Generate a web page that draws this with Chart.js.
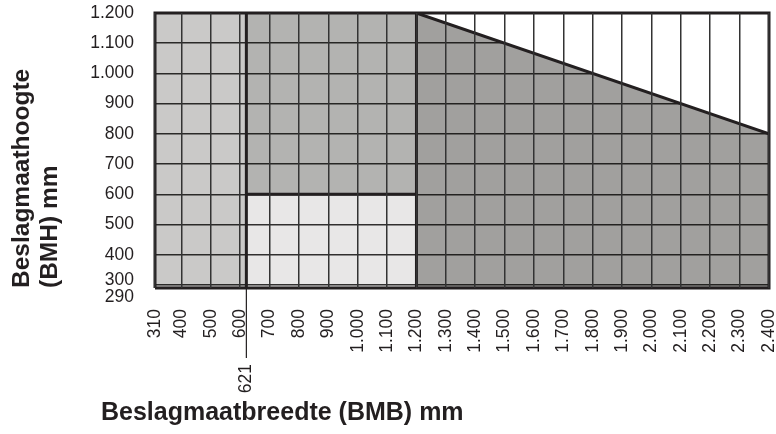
<!DOCTYPE html>
<html>
<head>
<meta charset="utf-8">
<script src="https://cdn.jsdelivr.net/npm/chart.js@4.4.1/dist/chart.umd.min.js"></script>
<style>
html,body{margin:0;padding:0;background:#fff;}
#wrap{width:776px;height:434px;}
</style>
</head>
<body>
<div id="wrap"><canvas id="c" width="776" height="434"></canvas></div>
<script>
// ---- data ----
const xRange = [310, 2400];
const yRange = [290, 1200];
const xTickValues = [310, 400, 500, 600, 700, 800, 900, 1000, 1100, 1200, 1300, 1400, 1500, 1600, 1700, 1800, 1900, 2000, 2100, 2200, 2300, 2400];
const yTickValues = [290, 300, 400, 500, 600, 700, 800, 900, 1000, 1100, 1200];
const narrowWidthLimit = 621;
const leftZoneX = [310, 621];
const leftZoneTop = [1200, 1200];
const middleZoneX = [621, 1200];
const middleUpperTop = [1200, 1200];
const middleLowerTop = [600, 600];
const wideZoneX = [1200, 2400];
const wideZoneTop = [1200, 800];
const xTitle = 'Beslagmaatbreedte (BMB) mm';
const yTitle = ['Beslagmaathoogte', '(BMH) mm'];

// ---- helpers ----
const ink = '#231f20';
const fam = '"Liberation Sans", Arial, Helvetica, sans-serif';
const tickSize = 17.5;
const pts = (xs, ys) => xs.map((x, i) => ({x: x, y: ys[i]}));
const fmt = v => v >= 1000 ? Math.floor(v / 1000) + '.' + String(v % 1000).padStart(3, '0') : String(v);
const base = {showLine: true, pointRadius: 0, pointHoverRadius: 0, tension: 0};

const frameX = [xRange[0], xRange[0], xRange[1], xRange[1], xRange[0]];
const frameY = [yRange[0], yRange[1], yRange[1], yRange[0], yRange[0]];

const datasets = [
  Object.assign({}, base, {label: 'frame', data: pts(frameX, frameY), borderColor: ink, borderWidth: 3, fill: false, order: 1, clip: false}),
  Object.assign({}, base, {label: 'limit621', data: pts([narrowWidthLimit, narrowWidthLimit], yRange), borderColor: ink, borderWidth: 3, fill: false, order: 1}),
  Object.assign({}, base, {label: 'limit1200', data: pts([middleZoneX[1], middleZoneX[1]], yRange), borderColor: ink, borderWidth: 3, fill: false, order: 1}),
  Object.assign({}, base, {label: 'above', data: pts(wideZoneX, wideZoneTop), borderColor: ink, borderWidth: 3, fill: 'end', backgroundColor: '#ffffff', order: 2}),
  Object.assign({}, base, {label: 'middleLower', data: pts(middleZoneX, middleLowerTop), borderColor: ink, borderWidth: 3, fill: 'start', backgroundColor: 'rgba(10,5,0,0.095)', order: 3}),
  Object.assign({}, base, {label: 'middleUpper', data: pts(middleZoneX, middleUpperTop), borderWidth: 0, borderColor: 'rgba(0,0,0,0)', fill: '-1', backgroundColor: 'rgba(8,5,0,0.305)', order: 4}),
  Object.assign({}, base, {label: 'wide', data: pts(wideZoneX, wideZoneTop), borderWidth: 0, borderColor: 'rgba(0,0,0,0)', fill: 'start', backgroundColor: 'rgba(8,5,0,0.38)', order: 5}),
  Object.assign({}, base, {label: 'left', data: pts(leftZoneX, leftZoneTop), borderWidth: 0, borderColor: 'rgba(0,0,0,0)', fill: 'start', backgroundColor: 'rgba(8,5,0,0.215)', order: 6})
];

const extras = {
  id: 'extras',
  afterDraw(chart) {
    const ctx = chart.ctx;
    const xs = chart.scales.x;
    const ca = chart.chartArea;
    const px = xs.getPixelForValue(narrowWidthLimit);
    ctx.save();
    ctx.strokeStyle = ink;
    ctx.lineWidth = 1.2;
    ctx.beginPath();
    ctx.moveTo(px, ca.bottom);
    ctx.lineTo(px, ca.bottom + 70);
    ctx.stroke();
    ctx.fillStyle = ink;
    ctx.font = tickSize + 'px ' + fam;
    ctx.translate(px, ca.bottom + 76);
    ctx.rotate(-Math.PI / 2);
    ctx.textAlign = 'right';
    ctx.textBaseline = 'middle';
    ctx.fillText(String(narrowWidthLimit), 0, 0);
    ctx.restore();
    ctx.save();
    ctx.fillStyle = ink;
    ctx.font = 'bold 25px ' + fam;
    ctx.textAlign = 'left';
    ctx.textBaseline = 'middle';
    ctx.fillText(xTitle, ca.left - 54, 413);
    ctx.restore();
  }
};

new Chart(document.getElementById('c'), {
  type: 'scatter',
  data: {datasets: datasets},
  plugins: [extras],
  options: {
    responsive: false,
    animation: false,
    devicePixelRatio: 1,
    events: [],
    layout: {padding: {top: 13, right: 7, bottom: 0, left: 0}},
    plugins: {legend: {display: false}, tooltip: {enabled: false}, title: {display: false}},
    scales: {
      x: {
        type: 'linear', position: 'bottom', min: xRange[0], max: xRange[1],
        afterBuildTicks: s => { s.ticks = xTickValues.map(v => ({value: v})); },
        afterFit: s => { s.height = 146; s.paddingLeft = 0; s.paddingRight = 0; },
        grid: {color: '#333333', lineWidth: 1.5, drawTicks: false, z: 1},
        border: {display: false},
        ticks: {autoSkip: false, minRotation: 90, maxRotation: 90, padding: 21, color: ink,
          font: {family: fam, size: tickSize}, callback: v => fmt(v)}
      },
      y: {
        type: 'linear', position: 'left', min: yRange[0], max: yRange[1],
        afterBuildTicks: s => { s.ticks = yTickValues.map(v => ({value: v})); },
        afterFit: s => { s.width = 155; s.paddingTop = 0; s.paddingBottom = 0; },
        grid: {color: 'rgba(0,0,0,0.8)', lineWidth: 1.5, drawTicks: false},
        border: {display: false},
        ticks: {autoSkip: false, padding: 21, color: ink,
          font: c => ({family: fam, size: tickSize, lineHeight: c.index === 1 ? 0.5 : 1}),
          callback: (v, i) => i === 0 ? ['', fmt(v)] : (i === 1 ? [fmt(v), ''] : fmt(v))},
        title: {display: true, text: yTitle, align: 'start', color: ink,
          font: {family: fam, size: 24.5, weight: 'bold', lineHeight: 1.12},
          padding: {top: 9, bottom: 0}}
      }
    }
  }
});
</script>
</body>
</html>
